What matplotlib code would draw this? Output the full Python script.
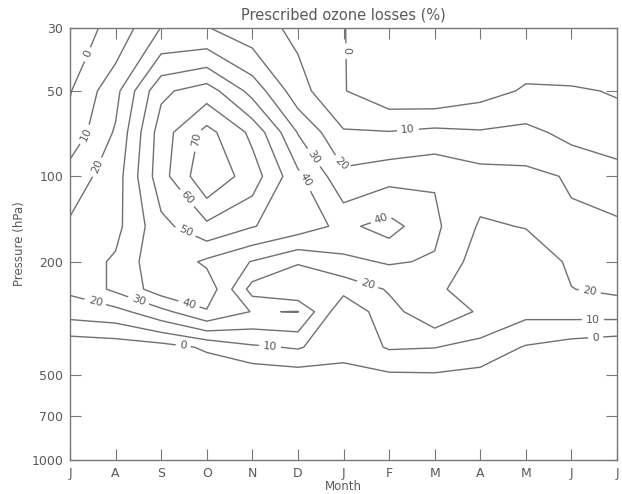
import numpy as np
import matplotlib
matplotlib.use('Agg')
import matplotlib.pyplot as plt
from matplotlib.ticker import NullLocator, FixedLocator, FixedFormatter

# ---------------- data ----------------
months = ['J', 'A', 'S', 'O', 'N', 'D', 'J', 'F', 'M', 'A', 'M', 'J', 'J']
pressure = [30, 50, 70, 100, 150, 200, 250, 300, 400, 500, 700, 850, 1000]

# ozone loss (%) at each pressure level, July .. July
loss_30 = [-5, 3, 20.3, 20.5, 14, 7.8, 0.5, -10, -10, -6, -6.1, -9, -5]
loss_50 = [-0.6, 17, 48, 55, 36.6, 14, 0.5, -7, -8, -3.5, 1, 1, -0.6]
loss_70 = [3.4, 21.2, 55, 73.5, 57.6, 29.5, 11, 10.5, 12.5, 11, 12.8, 7, 3.4]
loss_100 = [15, 25, 56, 78, 65, 42.6, 23, 27, 29.2, 24.2, 22.7, 19, 15]
loss_150 = [21.5, 27, 47, 57.5, 50.5, 45, 37.6, 44, 32, 18.8, 20.4, 21.6, 21.5]
loss_200 = [24, 31.5, 48, 38, 29.5, 21, 27.6, 31, 29, 14.7, 14, 21.5, 24]
loss_250 = [22, 32, 45, 47, 16, 10.5, 13, 21, 23, 12, 13, 19.8, 22]
loss_300 = [14.3, 16.6, 27, 39, 29.5, 30.3, 2, 16.5, 27.3, 18.6, 12.7, 13.7, 14.3]
loss_400 = [-7.4, -6, -4, 1.5, 8.5, 11, 3.3, 11, 10.3, 6.6, -0.8, -4.8, -7.4]
loss_500 = [-8, -7, -6, -7, -6.4, -4.5, -2.8, -1.2, -0.8, -2.7, -4, -5, -8]
loss_700 = [-8, -8, -8, -8, -8, -8, -8, -8, -8, -8, -8, -8, -8]
loss_850 = [-8, -8, -8, -8, -8, -8, -8, -8, -8, -8, -8, -8, -8]
loss_1000 = [-8, -8, -8, -8, -8, -8, -8, -8, -8, -8, -8, -8, -8]

contour_levels = [0, 10, 20, 30, 40, 50, 60, 70]
ytick_values = [30, 50, 100, 200, 500, 700, 1000]

# ---------------- plot ----------------
line_col = '#707070'
text_col = '#5a5a5a'

fig = plt.figure(figsize=(6.22, 4.94), dpi=100)
ax = fig.add_axes([70 / 622, 34 / 494, 547 / 622, 432 / 494])

Z = np.array([loss_30, loss_50, loss_70, loss_100, loss_150, loss_200, loss_250,
              loss_300, loss_400, loss_500, loss_700, loss_850, loss_1000])
x = np.arange(len(months))

cs = ax.contour(x, pressure, Z, levels=contour_levels, colors=line_col, linewidths=1.0)
ax.set_yscale('log')
ax.set_ylim(1000, 30)
ax.set_xlim(0, len(months) - 1)

# label positions (month index, hPa)
label_pos = [(0.39, 37), (0.29, 70), (0.5, 91), (2.74, 74), (2.59, 118), (2.57, 152),
             (5.33, 86), (5.15, 103), (5.96, 90), (5.94, 36), (7.41, 67), (6.84, 143),
             (6.54, 238), (11.4, 256), (11.47, 318), (11.53, 362), (0.55, 279),
             (1.49, 278), (2.59, 289), (2.48, 399), (4.39, 393)]
ax.clabel(cs, fmt='%d', fontsize=8, colors=text_col, inline=True, inline_spacing=4,
          manual=label_pos)

ax.yaxis.set_major_locator(FixedLocator(ytick_values))
ax.yaxis.set_major_formatter(FixedFormatter([str(v) for v in ytick_values]))
ax.yaxis.set_minor_locator(NullLocator())
ax.set_xticks(x)
ax.set_xticklabels(months)
ax.tick_params(direction='in', length=8, width=0.8, top=True, right=True,
               colors='#777777', labelcolor=text_col, labelsize=9, pad=5)
for s in ax.spines.values():
    s.set_color('#777777')
    s.set_linewidth(1.0)

ax.set_title('Prescribed ozone losses (%)', fontsize=10.5, color=text_col, pad=6)
ax.set_xlabel('Month', fontsize=8.5, color=text_col, labelpad=0)
ax.set_ylabel('Pressure (hPa)', fontsize=8.5, color=text_col, labelpad=4)

fig.savefig('out.png', dpi=100)
